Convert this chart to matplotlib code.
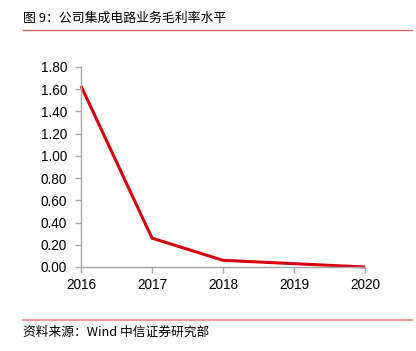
import matplotlib
matplotlib.use("Agg")
import matplotlib.pyplot as plt
from matplotlib.lines import Line2D

plt.rcParams['font.family'] = ['Liberation Sans', 'Noto Sans CJK SC', 'DejaVu Sans']

years = [2016, 2017, 2018, 2019, 2020]
margin = [1.63, 0.26, 0.06, 0.03, 0.00]
yticks = [0.0, 0.2, 0.4, 0.6, 0.8, 1.0, 1.2, 1.4, 1.6, 1.8]
title = "图 9：公司集成电路业务毛利率水平"
source = "资料来源：Wind 中信证券研究部"

fig = plt.figure(figsize=(4.16, 3.51), dpi=100)
ax = fig.add_axes([81/416, 1-267/351, (365-81)/416, (267-67)/351])
ax.plot(years, margin, color='#d7000f', lw=2.2, solid_capstyle='butt', clip_on=False)
ax.set_xlim(2016, 2020)
ax.set_ylim(0, 1.8)
ax.set_xticks(years)
ax.set_xticklabels([str(y) for y in years])
ax.set_yticks(yticks)
ax.set_yticklabels([f"{v:.2f}" for v in yticks])
for s in ['top', 'right']:
    ax.spines[s].set_visible(False)
for s in ['left', 'bottom']:
    ax.spines[s].set_color('#a6a6a6')
    ax.spines[s].set_linewidth(1.0)
ax.tick_params(axis='both', colors='#a6a6a6', labelcolor='black', labelsize=9.8, length=4, width=1.0)
ax.tick_params(axis='y', pad=6)
ax.tick_params(axis='x', pad=4)

fig.text(23/416, 1-18/351, title, fontsize=9.3, va='center', ha='left',
         family=['Noto Sans CJK SC', 'DejaVu Sans'])
fig.add_artist(Line2D([23/416, 412/416], [1-29.5/351, 1-29.5/351], color='#e06666', lw=1.0))
fig.add_artist(Line2D([23/416, 412/416], [1-320/351, 1-320/351], color='#e89090', lw=1.3))
fig.text(23/416, 1-332/351, source, fontsize=9.2, va='center', ha='left',
         family=['Noto Sans CJK SC', 'DejaVu Sans'])

fig.savefig('out.png', dpi=100)
